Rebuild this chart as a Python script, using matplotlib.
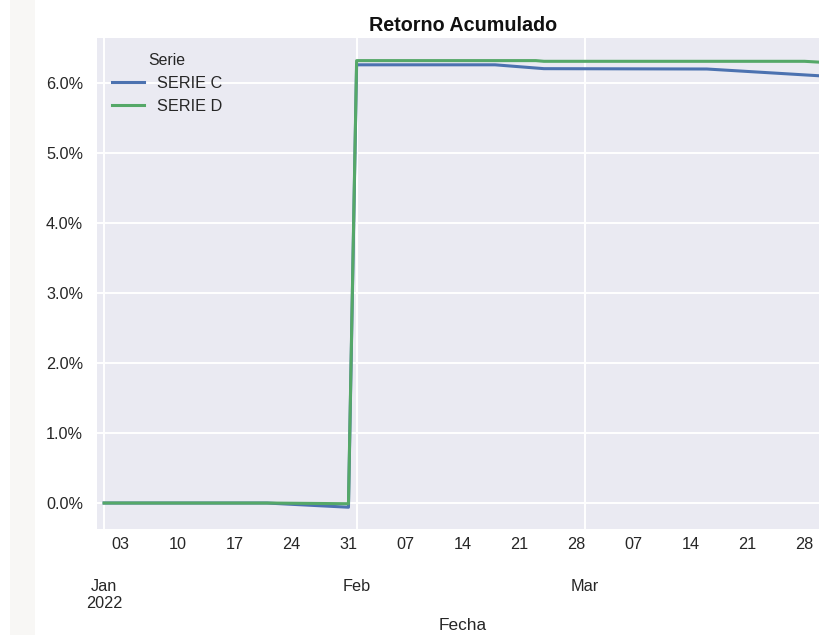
import matplotlib
matplotlib.use("Agg")
import matplotlib.pyplot as plt
import matplotlib.dates as mdates
from matplotlib.ticker import PercentFormatter, FixedLocator
from matplotlib.patches import Rectangle
import numpy as np
import pandas as pd

# Data (cumulative return, in percent)
dates_c = pd.to_datetime(["2022-01-01", "2022-01-21", "2022-01-31", "2022-02-01",
                          "2022-02-18", "2022-02-24", "2022-03-16", "2022-03-31"])
serie_c = [0.0, 0.0, -0.06, 6.26, 6.26, 6.205, 6.20, 6.095]

dates_d = pd.to_datetime(["2022-01-01", "2022-01-21", "2022-01-31", "2022-02-01",
                          "2022-02-23", "2022-02-24", "2022-03-28", "2022-03-31"])
serie_d = [0.0, 0.0, -0.01, 6.32, 6.32, 6.31, 6.31, 6.29]

series_names = ["SERIE C", "SERIE D"]
title = "Retorno Acumulado"
xlabel = "Fecha"
legend_title = "Serie"
yticks = [0, 1, 2, 3, 4, 5, 6]

plt.rcParams['font.family'] = ['Liberation Sans', 'DejaVu Sans']

W, H = 819, 635
fig = plt.figure(figsize=(W / 100, H / 100), dpi=100)
fig.patch.set_facecolor("white")
fig.patches.append(Rectangle((10 / W, 0), 25 / W, 1, transform=fig.transFigure,
                             facecolor="#f8f7f5", edgecolor="none", zorder=-10))

left, right, top, bottom = 97, 829, 38, 529
ax = fig.add_axes([left / W, 1 - bottom / H, (right - left) / W, (bottom - top) / H])
ax.set_facecolor("#EAEAF2")
for s in ax.spines.values():
    s.set_visible(False)

ax.plot(dates_c, serie_c, color="#4C72B0", lw=2.2, label=series_names[0])
ax.plot(dates_d, serie_d, color="#55A868", lw=2.2, label=series_names[1])

ax.set_xlim(pd.Timestamp("2021-12-31 03:00"), pd.Timestamp("2022-03-31 00:00"))
ax.set_ylim(-0.371, 6.643)

ax.yaxis.set_major_locator(FixedLocator(yticks))
ax.yaxis.set_major_formatter(PercentFormatter(xmax=100, decimals=1))

ax.xaxis.set_major_locator(mdates.MonthLocator())
def major_fmt(x, pos=None):
    d = mdates.num2date(x)
    if d.month == 1:
        return d.strftime("%b\n%Y")
    return d.strftime("%b")
ax.xaxis.set_major_formatter(plt.FuncFormatter(major_fmt))
ax.xaxis.set_minor_locator(mdates.WeekdayLocator(byweekday=mdates.MO))
ax.xaxis.set_minor_formatter(mdates.DateFormatter("%d"))

ax.grid(True, which="major", axis="both", color="white", lw=1.4)
ax.set_axisbelow(True)

tc = "#262626"
ax.tick_params(axis="y", which="major", length=0, pad=10, labelsize=11.7, labelcolor=tc)
ax.tick_params(axis="x", which="minor", length=0, pad=5.5, labelsize=11.7, labelcolor=tc)
ax.tick_params(axis="x", which="major", length=0, pad=36, labelsize=11.7, labelcolor=tc)

ax.set_xlabel(xlabel, fontsize=12.4, color=tc, labelpad=5)
ax.set_title(title, fontsize=14.2, fontweight="bold", color="#111111", pad=5)

leg = ax.legend(title=legend_title, loc="upper left", frameon=False,
                fontsize=11.7, title_fontsize=11.4)
for t in leg.get_texts():
    t.set_color(tc)
leg.get_title().set_color(tc)

fig.savefig("out.png", dpi=100)
